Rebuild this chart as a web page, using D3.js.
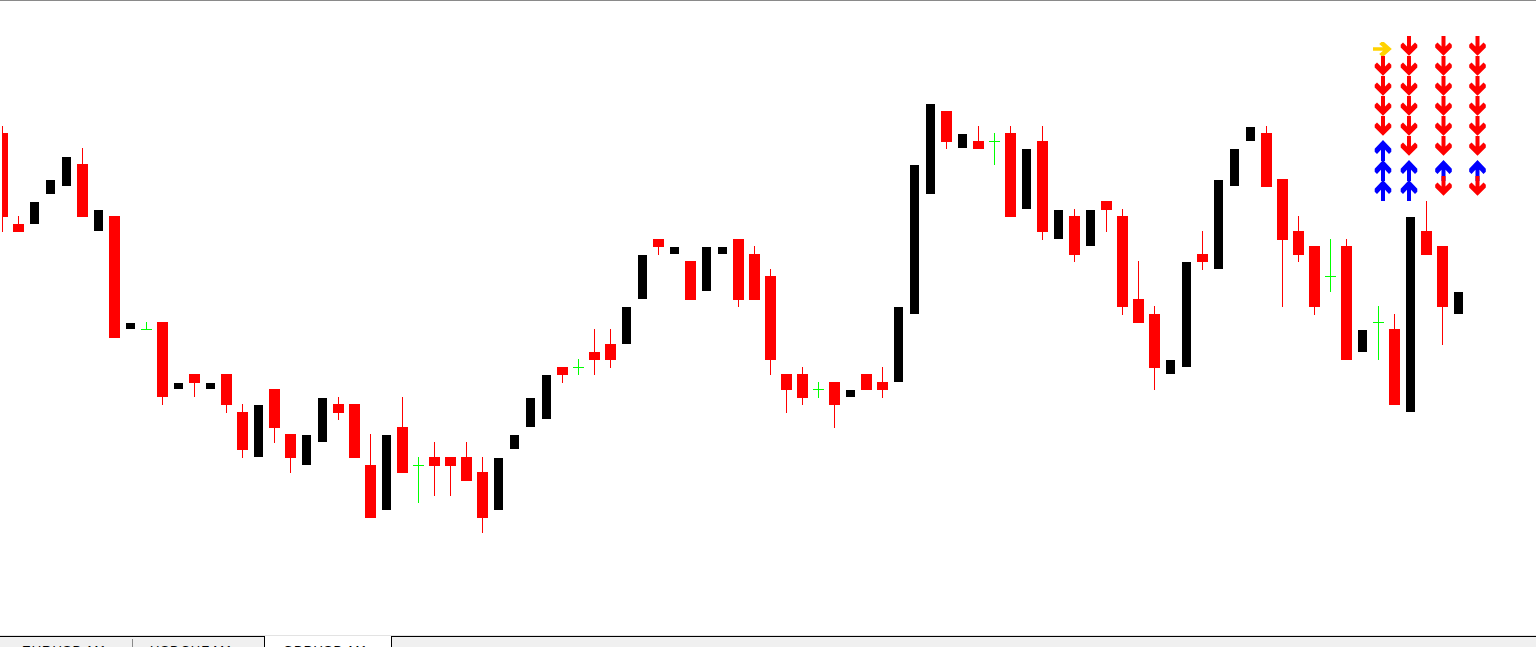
<!DOCTYPE html>
<html>
<head>
<meta charset="utf-8">
<script src="https://cdn.jsdelivr.net/npm/d3@7"></script>
<style>
  html, body { margin: 0; padding: 0; background: #fff; overflow: hidden; }
  svg { display: block; }
</style>
</head>
<body>
<svg id="chart" width="1536" height="647"></svg>
<script>
// ---- Data (M1 bars) ----
const openP = [
1.10467,1.10376,1.10376,1.10406,1.10414,1.10436,1.10369,1.10384,1.10271,1.10271,
1.10278,1.10211,1.10226,1.10211,1.10226,1.10188,1.10143,1.10211,1.10166,1.10135,
1.10158,1.10196,1.10196,1.10135,1.10090,1.10173,1.10135,1.10143,1.10143,1.10143,
1.10128,1.10090,1.10151,1.10173,1.10181,1.10233,1.10233,1.10248,1.10256,1.10256,
1.10301,1.10361,1.10346,1.10339,1.10309,1.10346,1.10361,1.10346,1.10324,1.10226,
1.10226,1.10211,1.10218,1.10203,1.10226,1.10218,1.10218,1.10286,1.10406,1.10489,
1.10452,1.10459,1.10459,1.10467,1.10391,1.10459,1.10361,1.10384,1.10354,1.10399,
1.10384,1.10301,1.10286,1.10226,1.10233,1.10346,1.10331,1.10414,1.10459,1.10467,
1.10421,1.10369,1.10354,1.10324,1.10354,1.10248,1.10278,1.10271,1.10188,1.10369,
1.10354,1.10286];
const highP = [
1.10474,1.10384,1.10398,1.10420,1.10443,1.10452,1.10390,1.10384,1.10277,1.10278,
1.10278,1.10217,1.10226,1.10217,1.10226,1.10196,1.10195,1.10211,1.10166,1.10165,
1.10202,1.10203,1.10196,1.10166,1.10165,1.10203,1.10143,1.10158,1.10143,1.10158,
1.10143,1.10142,1.10165,1.10202,1.10225,1.10233,1.10241,1.10271,1.10271,1.10293,
1.10345,1.10361,1.10353,1.10339,1.10353,1.10353,1.10361,1.10354,1.10331,1.10226,
1.10233,1.10218,1.10218,1.10210,1.10226,1.10233,1.10293,1.10435,1.10496,1.10489,
1.10466,1.10474,1.10467,1.10474,1.10451,1.10474,1.10390,1.10391,1.10390,1.10399,
1.10391,1.10339,1.10294,1.10240,1.10338,1.10369,1.10420,1.10451,1.10473,1.10474,
1.10421,1.10384,1.10354,1.10361,1.10361,1.10270,1.10294,1.10286,1.10383,1.10399,
1.10354,1.10308];
const lowP = [
1.10368,1.10368,1.10376,1.10406,1.10414,1.10383,1.10369,1.10262,1.10271,1.10271,
1.10195,1.10211,1.10203,1.10211,1.10187,1.10142,1.10143,1.10157,1.10127,1.10135,
1.10158,1.10180,1.10142,1.10082,1.10090,1.10127,1.10097,1.10104,1.10104,1.10119,
1.10067,1.10090,1.10151,1.10173,1.10181,1.10217,1.10225,1.10225,1.10232,1.10256,
1.10301,1.10345,1.10346,1.10300,1.10309,1.10346,1.10293,1.10300,1.10225,1.10187,
1.10195,1.10202,1.10172,1.10203,1.10210,1.10202,1.10218,1.10286,1.10406,1.10451,
1.10452,1.10451,1.10435,1.10383,1.10391,1.10360,1.10361,1.10338,1.10354,1.10368,
1.10285,1.10277,1.10210,1.10226,1.10233,1.10330,1.10331,1.10414,1.10459,1.10413,
1.10293,1.10338,1.10285,1.10308,1.10240,1.10248,1.10240,1.10195,1.10188,1.10345,
1.10255,1.10286];
const closeP = [
1.10383,1.10368,1.10398,1.10420,1.10443,1.10383,1.10390,1.10262,1.10277,1.10271,
1.10203,1.10217,1.10217,1.10217,1.10195,1.10150,1.10195,1.10172,1.10142,1.10165,
1.10202,1.10187,1.10142,1.10082,1.10165,1.10127,1.10135,1.10134,1.10134,1.10119,
1.10082,1.10142,1.10165,1.10202,1.10225,1.10225,1.10233,1.10240,1.10240,1.10293,
1.10345,1.10353,1.10353,1.10300,1.10353,1.10353,1.10300,1.10300,1.10240,1.10210,
1.10202,1.10211,1.10195,1.10210,1.10210,1.10210,1.10293,1.10435,1.10496,1.10458,
1.10466,1.10451,1.10459,1.10383,1.10451,1.10368,1.10390,1.10345,1.10390,1.10390,
1.10293,1.10277,1.10232,1.10240,1.10338,1.10338,1.10420,1.10451,1.10473,1.10413,
1.10360,1.10345,1.10293,1.10324,1.10240,1.10270,1.10278,1.10195,1.10383,1.10345,
1.10293,1.10308];

// Signal panel (columns = timeframes, rows = indicators)
const signalColumns = ["M1", "M5", "M15", "H1"];
const signalRows = 8;
const signals = {
  "M1":  ["flat","down","down","down","down","up","up","up"],
  "M5":  ["down","down","down","down","down","down","up","up"],
  "M15": ["down","down","down","down","down","down","up","down"],
  "H1":  ["down","down","down","down","down","down","up","down"]
};
const tabLabels = ["EURUSD,M1", "USDCHF,M1", "GBPUSD,M1"];

// ---- Drawing ----
const W = 1536, H = 647;
const svg = d3.select("#chart");
svg.append("rect").attr("width", W).attr("height", H).attr("fill", "#fff");

const x = d3.scaleLinear().domain([0, openP.length - 1]).range([2, 1458]);
const y = d3.scaleLinear().domain([1.100, 1.106]).range([600, 0]);
const Y = v => Math.round(y(v));

svg.append("defs").append("clipPath").attr("id", "plot")
  .append("rect").attr("x", 2).attr("y", 1).attr("width", W - 2).attr("height", 634);

const bars = openP.map((o, i) => ({ i, o, h: highP[i], l: lowP[i], c: closeP[i] }));
const kind = d => d.o === d.c ? "doji" : (d.c > d.o ? "bull" : "bear");
const colorOf = { bull: "#000000", bear: "#ff0000", doji: "#00ff00" };

const g = svg.append("g").attr("clip-path", "url(#plot)").attr("shape-rendering", "crispEdges");

const cg = g.selectAll("g.bar").data(bars).enter().append("g").attr("class", "bar");
cg.append("rect")
  .attr("x", d => Math.round(x(d.i)))
  .attr("width", 1)
  .attr("y", d => Y(d.h))
  .attr("height", d => Math.max(1, Y(d.l) - Y(d.h)))
  .attr("fill", d => colorOf[kind(d)]);
cg.append("rect")
  .attr("x", d => Math.round(x(d.i)) - (kind(d) === "bull" ? 4 : 5))
  .attr("width", d => kind(d) === "bull" ? 9 : 11)
  .attr("y", d => Y(Math.max(d.o, d.c)))
  .attr("height", d => Math.max(1, Y(Math.min(d.o, d.c)) - Y(Math.max(d.o, d.c))))
  .attr("fill", d => colorOf[kind(d)]);

// ---- Signal arrows ----
const colX = d3.scaleOrdinal().domain(signalColumns).range([1383, 1409, 1443.5, 1477.5]);
const rowY = d3.scaleLinear().domain([0, signalRows - 1]).range([36, 176]);
const arrowPath = "M-2,0 L2,0 L2,10.5 L6,6.5 L8.3,8.8 L8.3,11.5 L0,19.8 L-8.3,11.5 L-8.3,8.8 L-6,6.5 L-2,10.5 Z";
const sigColor = { down: "#ff0000", up: "#0000ff", flat: "#ffd200" };

const ag = svg.append("g");
signalColumns.forEach(col => {
  signals[col].forEach((s, r) => {
    let t;
    if (s === "down") t = `translate(${colX(col)},${rowY(r)})`;
    else if (s === "up") t = `translate(${colX(col)},${rowY(r) + 25}) scale(1,-1.06)`;
    else t = `translate(${colX(col) - 10},${rowY(r) + 13}) rotate(-90) scale(0.85,0.95)`;
    ag.append("path").attr("d", arrowPath).attr("transform", t).attr("fill", sigColor[s]);
  });
});

// ---- Frame & tab bar ----
svg.append("line").attr("x1", 0).attr("x2", W).attr("y1", 0.5).attr("y2", 0.5)
  .attr("stroke", "#8a8a8a");
const tb = svg.append("g").attr("shape-rendering", "crispEdges");
tb.append("rect").attr("x", 0).attr("y", 636).attr("width", W).attr("height", 11).attr("fill", "#f0f0f0");
tb.append("line").attr("x1", 0).attr("x2", W).attr("y1", 635.5).attr("y2", 635.5).attr("stroke", "#e3e3e3");
tb.append("line").attr("x1", 0).attr("x2", 265).attr("y1", 636.5).attr("y2", 636.5).attr("stroke", "#000");
tb.append("line").attr("x1", 391).attr("x2", W).attr("y1", 636.5).attr("y2", 636.5).attr("stroke", "#000");
tb.append("rect").attr("x", 265).attr("y", 636).attr("width", 126).attr("height", 11).attr("fill", "#fff");
tb.append("line").attr("x1", 264.5).attr("x2", 264.5).attr("y1", 636).attr("y2", 647).attr("stroke", "#000");
tb.append("line").attr("x1", 391.5).attr("x2", 391.5).attr("y1", 636).attr("y2", 647).attr("stroke", "#000");
tb.append("line").attr("x1", 132.5).attr("x2", 132.5).attr("y1", 639).attr("y2", 647).attr("stroke", "#8a8a8a");
const tabX = d3.scaleOrdinal().domain(tabLabels).range([22, 150, 283]);
tb.selectAll("text").data(tabLabels).enter().append("text")
  .attr("x", d => tabX(d)).attr("y", 654.5)
  .attr("font-family", "Liberation Sans, Arial, sans-serif")
  .attr("font-size", 13).attr("letter-spacing", 1)
  .attr("fill", "#000")
  .text(d => d);
</script>
</body>
</html>
